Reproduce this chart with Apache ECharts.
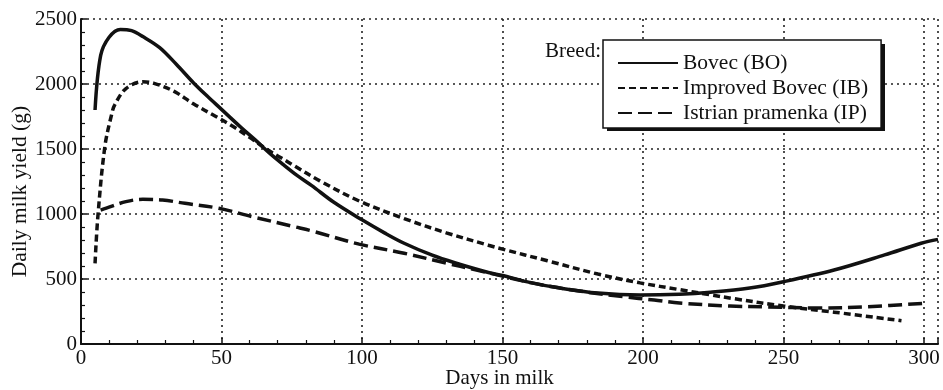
<!DOCTYPE html>
<html>
<head>
<meta charset="utf-8">
<script src="https://cdn.jsdelivr.net/npm/echarts@6/dist/echarts.min.js"></script>
<style>
html,body{margin:0;padding:0;background:#fff;}
#chart{width:943px;height:390px;}
</style>
</head>
<body>
<div id="chart"></div>
<script>
const seriesNames = ['Bovec (BO)', 'Improved Bovec (IB)', 'Istrian pramenka (IP)'];
const xTicks = [0, 50, 100, 150, 200, 250, 300];
const yTicks = [0, 500, 1000, 1500, 2000, 2500];

const boDays = [5,7,10,14,18,22,28,34,40,45,50,57,62,67,72,77,82,90,100,108,115,125,133,145,150,160,170,184,199,213,224,238,250,268,286,299,305];
const boYield = [1800,2220,2360,2420,2410,2365,2280,2150,2010,1905,1805,1665,1570,1470,1380,1295,1220,1090,955,855,775,683,625,550,527,472,432,392,377,383,398,430,479,569,685,775,805];

const ibDays = [5,6,8.5,11,12,16,22,26,33,40,48,54,60,66,71,76,85,99,115,130,145,150,166,184,199,213,224,232,250,268,292];
const ibYield = [620,980,1520,1775,1840,1965,2018,2005,1945,1848,1750,1675,1590,1500,1435,1370,1255,1100,965,855,760,730,640,538,470,418,378,350,292,245,179];

const ipDays = [7,9,16,22,29,37,49,61,76,83,99,115,130,140,150,160,170,180,193,204,213,231,244,262,280,300];
const ipYield = [1030,1045,1095,1113,1108,1082,1044,979,902,865,768,698,622,572,522,472,432,399,364,338,315,292,285,277,287,313];

function pairs(xs, ys){ return xs.map((x,i)=>[x, ys[i]]); }

const FONT = '"Liberation Serif", "DejaVu Serif", serif';
const INK = '#111';
const chart = echarts.init(document.getElementById('chart'), null, {renderer:'canvas'});
const option = {
  animation: false,
  backgroundColor: '#fff',
  textStyle: {fontFamily: FONT, color: INK},
  grid: {left: 81, right: 5, top: 19, bottom: 46, containLabel: false, outerBoundsMode: 'none'},
  title: {
    text: 'Breed:', left: 540, top: 36,
    textStyle: {fontFamily: FONT, fontSize: 21, fontWeight: 'normal', color: INK}
  },
  graphic: [
    {type: 'rect', z: 100, zlevel: 0, shape: {x: 881, y: 44, width: 4, height: 86}, style: {fill: INK}},
    {type: 'rect', z: 100, zlevel: 0, shape: {x: 607, y: 128, width: 278, height: 3}, style: {fill: INK}}
  ],
  legend: {
    data: seriesNames,
    orient: 'vertical',
    left: 603, top: 40,
    itemWidth: 60, itemHeight: 14, itemGap: 3,
    padding: [12, 13, 4, 14],
    borderColor: INK, borderWidth: 1.5,
    backgroundColor: '#fff',
    itemStyle: {color: 'rgba(0,0,0,0)', borderColor: 'rgba(0,0,0,0)', borderWidth: 0, opacity: 0},
    textStyle: {fontFamily: FONT, fontSize: 21.5, color: INK}
  },
  xAxis: {
    type: 'value', min: 0, max: 305, interval: 50,
    name: 'Days in milk', nameLocation: 'middle', nameGap: 24, nameMoveOverlap: false,
    nameTextStyle: {fontFamily: FONT, fontSize: 21, color: INK, padding: [0, 20, 0, 0]},
    axisLine: {show: true, onZero: false, lineStyle: {color: INK, width: 2}},
    axisTick: {show: true, inside: true, length: 6, lineStyle: {color: INK, width: 1.5}},
    minorTick: {show: true, splitNumber: 5, length: 4, lineStyle: {color: INK, width: 1.2}},
    axisLabel: {
      fontFamily: FONT, fontSize: 21, color: INK, margin: 4,
      formatter: v => (xTicks.indexOf(v) >= 0 ? String(v) : '')
    },
    splitLine: {show: true, lineStyle: {color: '#222', width: 1.6, type: [2, 4]}}
  },
  yAxis: {
    type: 'value', min: 0, max: 2500, interval: 500,
    name: 'Daily milk yield (g)', nameLocation: 'middle', nameGap: 50, nameMoveOverlap: false,
    nameTextStyle: {fontFamily: FONT, fontSize: 21.5, color: INK, padding: [0, 20, 0, 0]},
    axisLine: {show: true, onZero: false, lineStyle: {color: INK, width: 2}},
    axisTick: {show: true, inside: true, length: 6, lineStyle: {color: INK, width: 1.5}},
    minorTick: {show: true, splitNumber: 5, length: 4, lineStyle: {color: INK, width: 1.2}},
    axisLabel: {
      fontFamily: FONT, fontSize: 21, color: INK, margin: 4,
      formatter: v => (yTicks.indexOf(v) >= 0 ? String(v) : '')
    },
    splitLine: {show: true, lineStyle: {color: '#222', width: 1.6, type: [2, 4]}}
  },
  series: [
    {
      name: seriesNames[0], type: 'line', smooth: 0.35, symbol: 'none',
      data: pairs(boDays, boYield),
      lineStyle: {color: INK, width: 3.5, type: 'solid'},
      itemStyle: {color: INK}
    },
    {
      name: seriesNames[1], type: 'line', smooth: 0.35, symbol: 'none',
      data: pairs(ibDays, ibYield),
      lineStyle: {color: INK, width: 3.5, type: [7, 4]},
      itemStyle: {color: INK}
    },
    {
      name: seriesNames[2], type: 'line', smooth: 0.35, symbol: 'none',
      data: pairs(ipDays, ipYield),
      lineStyle: {color: INK, width: 3.5, type: [14, 6]},
      itemStyle: {color: INK}
    }
  ]
};
chart.setOption(option);
</script>
</body>
</html>
